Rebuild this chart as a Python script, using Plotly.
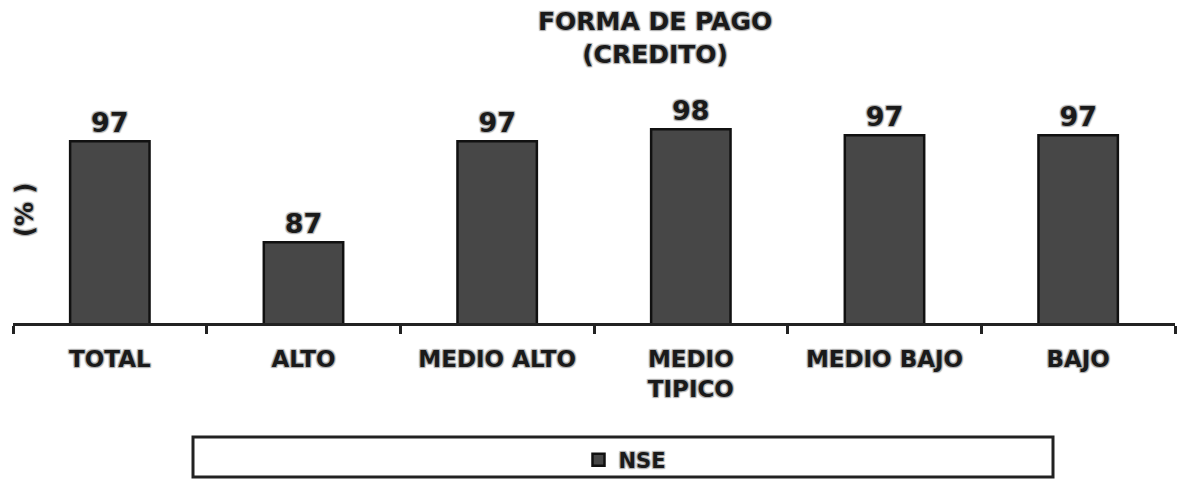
import plotly.graph_objects as go

categories = ["TOTAL", "ALTO", "MEDIO ALTO", "MEDIO<br>TIPICO", "MEDIO BAJO", "BAJO"]
values = [97.0, 87.0, 97.0, 98.2, 97.6, 97.6]
labels = ["97", "87", "97", "98", "97", "97"]
series_name = "NSE"

FONT = "DejaVu Sans"
TXT = "#1a1a1a"
HALO = "1px 1px 1px #b0b0b0, -1px -1px 1px #b0b0b0, 1px -1px 1px #b0b0b0, -1px 1px 1px #b0b0b0"

fig = go.Figure()
fig.add_trace(go.Bar(
    x=categories, y=values, name=series_name,
    text=labels, textposition="outside", cliponaxis=False,
    textfont=dict(family=FONT, size=27, color=TXT, weight="bold", shadow=HALO),
    marker=dict(color="#474747", line=dict(color="#111111", width=2.5)),
    showlegend=True,
))

fig.update_layout(
    width=1177, height=480,
    margin=dict(l=13, r=2, t=111, b=157, autoexpand=False),
    paper_bgcolor="white", plot_bgcolor="white",
    bargap=0.59,
    xaxis=dict(type="category", showline=True, linecolor="#222222", linewidth=2.5,
               ticks="outside", tickson="boundaries", ticklen=8, tickwidth=2.5,
               tickcolor="#222222", showgrid=False, automargin=False,
               ticklabelstandoff=14,
               tickfont=dict(family=FONT, size=23, color=TXT, weight="bold", shadow=HALO)),
    yaxis=dict(range=[79, 100], showline=False, showgrid=False, zeroline=False,
               showticklabels=False, ticks="", automargin=False),
    legend=dict(orientation="h", xref="container", yref="container",
                x=625/1177, xanchor="center", y=1-460/480, yanchor="middle",
                bgcolor="rgba(0,0,0,0)", itemwidth=30,
                font=dict(family=FONT, size=21, color=TXT, weight="bold", shadow=HALO)),
    annotations=[
        dict(text="<b>FORMA DE PAGO<br>(CREDITO)</b>", xref="paper", yref="paper",
             x=(655-13)/1162, y=(323-38.5)/212, showarrow=False,
             xanchor="center", yanchor="middle",
             font=dict(family=FONT, size=25, color=TXT, shadow=HALO)),
        dict(text="<b>(% )</b>", textangle=-90, xref="paper", yref="paper",
             x=(25-13)/1162, y=(323-210)/212, showarrow=False, xanchor="center", yanchor="middle",
             font=dict(family=FONT, size=24, color=TXT, shadow=HALO)),
    ],
    shapes=[dict(type="rect", xref="paper", yref="paper",
                 x0=(193-13)/1162, x1=(1053-13)/1162,
                 y0=(323-477)/212, y1=(323-437)/212,
                 line=dict(color="#222222", width=3), fillcolor="rgba(0,0,0,0)")],
)

fig.write_html("out.html", config={"displayModeBar": False},
               post_script="document.body.style.margin='0px';")
